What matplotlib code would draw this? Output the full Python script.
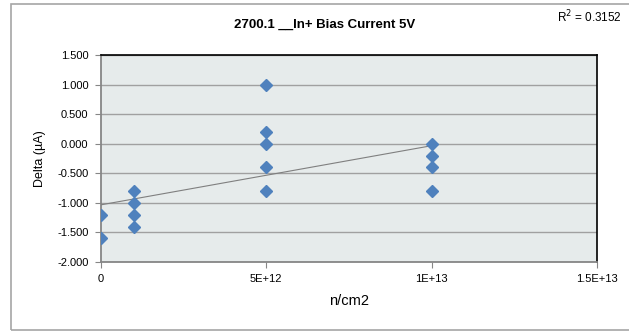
import numpy as np
import matplotlib
matplotlib.use("Agg")
import matplotlib.pyplot as plt
from matplotlib.patches import Rectangle

# fluence (n/cm2) and delta values
fluence = [0, 0, 1e12, 1e12, 1e12, 1e12,
           5e12, 5e12, 5e12, 5e12, 5e12,
           1e13, 1e13, 1e13, 1e13]
delta = [-1.2, -1.6, -0.8, -1.0, -1.2, -1.4,
         1.0, 0.2, 0.0, -0.4, -0.8,
         0.0, -0.2, -0.4, -0.8]
x_ticks = [0, 5e12, 1e13, 1.5e13]
x_ticklabels = ["0", "5E+12", "1E+13", "1.5E+13"]
y_ticks = [-2.0, -1.5, -1.0, -0.5, 0.0, 0.5, 1.0, 1.5]
title = "2700.1 __In+ Bias Current 5V"
r2_label = "R$^2$ = 0.3152"

plt.rcParams['font.family'] = ['Liberation Sans', 'DejaVu Sans']

W, H = 629, 335
fig = plt.figure(figsize=(W/100, H/100), dpi=100)

# outer chart border
fig.patches.append(Rectangle((11/W, 1-330/H), 700/W, (330-4)/H,
                             transform=fig.transFigure, fill=False,
                             edgecolor="#A6A6A6", linewidth=1.2))

ax = fig.add_axes([101/W, 1-262/H, (597-101)/W, (262-55)/H])
ax.set_facecolor("#E6EBEB")

x = np.array(fluence)
y = np.array(delta)
m, b = np.polyfit(x, y, 1)
xs = np.array([x.min(), x.max()])
ax.plot(xs, m*xs+b, color="#7F7F7F", linewidth=0.8, zorder=3)
ax.plot(x, y, linestyle="none", marker="D", markersize=6.5,
        color="#4F81BD", markeredgecolor="#4F81BD", zorder=4)

ax.set_xlim(0, 1.5e13)
ax.set_ylim(-2.0, 1.5)
ax.set_xticks(x_ticks)
ax.set_xticklabels(x_ticklabels)
ax.set_yticks(y_ticks)
ax.set_yticklabels(["%.3f" % v for v in y_ticks])
ax.grid(axis="y", color="#A0A0A0", linewidth=1)
ax.set_axisbelow(True)

for s in ["left", "bottom"]:
    ax.spines[s].set_color("#868686")
    ax.spines[s].set_linewidth(1.3)
for s in ["top", "right"]:
    ax.spines[s].set_color("black")
    ax.spines[s].set_linewidth(1.2)
ax.tick_params(axis="both", direction="out", length=4, color="#868686",
               labelsize=8, pad=5)

ax.set_xlabel("n/cm2", fontsize=10.5, labelpad=7)
ax.set_ylabel("Delta (µA)", fontsize=9, labelpad=8)
fig.text(325/W, 1-25/H, title, ha="center", va="center",
         fontsize=9.5, fontweight="bold")
fig.text(557/W, 1-17/H, r2_label, ha="left", va="center", fontsize=8.5)

fig.savefig("out.png", dpi=100)
